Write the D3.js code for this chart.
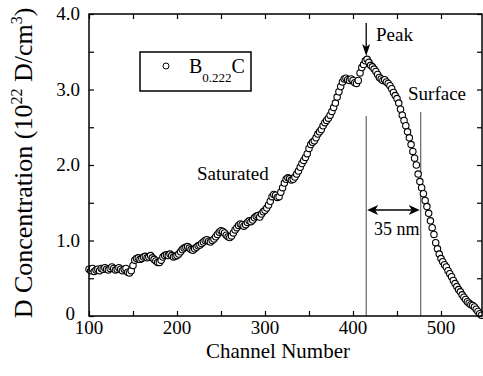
<!DOCTYPE html>
<html><head><meta charset="utf-8">
<script src="https://cdn.jsdelivr.net/npm/d3@7"></script>
<style>body{margin:0;background:#fff}svg{display:block}</style>
</head><body>
<svg id="c" width="483" height="376" font-family="'Liberation Serif', 'Times New Roman', Times, serif"></svg>
<script>
const channels = [100,102,104,106,108,110,112,114,116,118,120,122,124,126,128,130,132,134,136,138,140,142,144,146,148,150,152,154,156,158,160,162,164,166,168,170,172,174,176,178,180,182,184,186,188,190,192,194,196,198,200,202,204,206,208,210,212,214,216,218,220,222,224,226,228,230,232,234,236,238,240,242,244,246,248,250,252,254,256,258,260,262,264,266,268,270,272,274,276,278,280,282,284,286,288,290,292,294,296,298,300,302,304,306,308,310,312,314,316,318,320,322,324,326,328,330,332,334,336,338,340,342,344,346,348,350,352,354,356,358,360,362,364,366,368,370,372,374,376,378,380,382,384,386,388,390,392,394,396,398,400,402,404,406,408,410,412,414,416,418,420,422,424,426,428,430,432,434,436,438,440,442,444,446,448,450,452,454,456,458,460,462,464,466,468,470,472,474,476,478,480,482,484,486,488,490,492,494,496,498,500,502,504,506,508,510,512,514,516,518,520,522,524,526,528,530,532,534,536,538,540,542,544,546];
const concentration = [0.62,0.60,0.63,0.59,0.61,0.62,0.60,0.63,0.62,0.64,0.62,0.61,0.63,0.65,0.63,0.61,0.62,0.64,0.62,0.60,0.62,0.63,0.58,0.57,0.60,0.67,0.74,0.76,0.77,0.75,0.76,0.78,0.79,0.77,0.78,0.80,0.77,0.75,0.73,0.71,0.71,0.74,0.78,0.80,0.81,0.80,0.82,0.80,0.78,0.79,0.80,0.82,0.85,0.88,0.90,0.91,0.92,0.90,0.88,0.87,0.89,0.91,0.93,0.94,0.96,0.98,1.00,1.01,0.99,0.98,1.00,1.02,1.05,1.08,1.11,1.13,1.12,1.10,1.07,1.05,1.04,1.06,1.10,1.14,1.17,1.20,1.22,1.21,1.19,1.21,1.24,1.26,1.25,1.27,1.30,1.32,1.33,1.31,1.35,1.38,1.40,1.43,1.47,1.52,1.58,1.61,1.60,1.57,1.58,1.64,1.70,1.76,1.81,1.83,1.82,1.80,1.81,1.84,1.88,1.92,1.97,2.02,2.06,2.10,2.15,2.22,2.27,2.30,2.32,2.36,2.41,2.44,2.47,2.52,2.56,2.59,2.62,2.66,2.71,2.76,2.82,2.90,2.97,3.04,3.10,3.14,3.15,3.13,3.12,3.14,3.12,3.09,3.08,3.12,3.22,3.29,3.33,3.38,3.40,3.36,3.32,3.30,3.27,3.24,3.20,3.16,3.14,3.12,3.13,3.10,3.08,3.05,3.01,2.96,2.92,2.88,2.82,2.74,2.66,2.59,2.52,2.44,2.36,2.27,2.18,2.09,2.00,1.88,1.78,1.70,1.62,1.53,1.45,1.36,1.26,1.17,1.08,0.97,0.89,0.82,0.76,0.72,0.68,0.65,0.60,0.56,0.52,0.47,0.43,0.39,0.35,0.32,0.28,0.25,0.22,0.19,0.17,0.15,0.14,0.12,0.09,0.06,0.03,0.01];
const xTickValues = [100,200,300,400,500];
const yTickValues = [0,1,2,3,4];
const yTickLabels = ["0","1.0","2.0","3.0","4.0"];
const peakChannel = 415, surfaceChannel = 477;

const svg = d3.select("#c");
const L = 89, R = 482, T = 14, B = 316;
const x = d3.scaleLinear().domain([100, 546.6]).range([L, R]);
const y = d3.scaleLinear().domain([0, 4]).range([B, T]);

// annotation lines
svg.append("line").attr("x1", x(peakChannel)).attr("x2", x(peakChannel)).attr("y1", 116).attr("y2", B).attr("stroke", "#444").attr("stroke-width", 1);
svg.append("line").attr("x1", x(surfaceChannel)).attr("x2", x(surfaceChannel)).attr("y1", 112).attr("y2", B).attr("stroke", "#444").attr("stroke-width", 1);

// data
svg.append("g").selectAll("circle").data(channels).join("circle")
  .attr("cx", (d) => x(d)).attr("cy", (d, i) => y(concentration[i])).attr("r", 3.2)
  .attr("fill", "#fff").attr("stroke", "#000").attr("stroke-width", 1.1);

// axes with inward ticks
const minorX = d3.range(100, 547, 50), minorY = d3.range(0, 4.01, 0.5);
const gb = svg.append("g").attr("transform", `translate(0,${B})`).call(d3.axisBottom(x).tickValues(minorX).tickSize(-5).tickFormat(""));
const gt = svg.append("g").attr("transform", `translate(0,${T})`).call(d3.axisTop(x).tickValues(minorX).tickSize(-5).tickFormat(""));
const gl = svg.append("g").attr("transform", `translate(${L},0)`).call(d3.axisLeft(y).tickValues(minorY).tickSize(-5).tickFormat(""));
const gr = svg.append("g").attr("transform", `translate(${R},0)`).call(d3.axisRight(y).tickValues(minorY).tickSize(-5).tickFormat(""));
[gb, gt, gl, gr].forEach(g => { g.select(".domain").remove(); g.selectAll("line").attr("stroke", "#000").attr("stroke-width", 1.2); });
svg.append("rect").attr("x", L).attr("y", T).attr("width", R - L).attr("height", B - T).attr("fill", "none").attr("stroke", "#000").attr("stroke-width", 1.5);

// tick labels
svg.append("g").selectAll("text").data(xTickValues).join("text")
  .attr("x", (d) => x(d)).attr("y", 334).attr("text-anchor", "middle").attr("font-size", 19).text((d) => d);
svg.append("g").selectAll("text").data(yTickValues).join("text")
  .attr("x", (d) => d === 0 ? 75 : 80).attr("y", (d) => y(d) + (d === 0 ? 4 : 6)).attr("text-anchor", "end").attr("font-size", 19).text((d, i) => yTickLabels[i]);

// titles
svg.append("text").attr("x", 278).attr("y", 358).attr("text-anchor", "middle").attr("font-size", 21).text("Channel Number");
const yt = svg.append("text").attr("transform", "translate(32,163) rotate(-90)").attr("text-anchor", "middle").attr("font-size", 26);
yt.append("tspan").text("D  Concentration (10");
yt.append("tspan").attr("font-size", 16).attr("dy", -10).text("22");
yt.append("tspan").attr("dy", 10).text(" D/cm");
yt.append("tspan").attr("font-size", 16).attr("dy", -10).text("3");
yt.append("tspan").attr("dy", 10).text(")");

// legend
svg.append("rect").attr("x", 140).attr("y", 52).attr("width", 111).attr("height", 39).attr("fill", "none").attr("stroke", "#000").attr("stroke-width", 1.5);
svg.append("circle").attr("cx", 166).attr("cy", 66).attr("r", 3).attr("fill", "#fff").attr("stroke", "#000");
const lt = svg.append("text").attr("x", 189).attr("y", 73).attr("font-size", 20);
lt.append("tspan").text("B");
lt.append("tspan").attr("font-size", 13).attr("dy", 9).text("0.222");
lt.append("tspan").attr("dy", -9).text("C");

// Peak arrow
const px = x(peakChannel);
svg.append("line").attr("x1", px).attr("x2", px).attr("y1", 23).attr("y2", 48).attr("stroke", "#000").attr("stroke-width", 1.3);
svg.append("path").attr("d", `M${px},56 L${px-4},44 L${px},47 L${px+4},44 Z`).attr("fill", "#000");
svg.append("text").attr("x", 376).attr("y", 41).attr("font-size", 19).text("Peak");
svg.append("text").attr("x", 408).attr("y", 100).attr("font-size", 19).text("Surface");
svg.append("text").attr("x", 197).attr("y", 180).attr("font-size", 19).text("Saturated");

// 35 nm double arrow
const sx = x(surfaceChannel), ay = 210;
svg.append("line").attr("x1", px + 6).attr("x2", sx - 6).attr("y1", ay).attr("y2", ay).attr("stroke", "#000").attr("stroke-width", 1.5);
svg.append("path").attr("d", `M${px+1},${ay} L${px+12},${ay-5} L${px+9},${ay} L${px+12},${ay+5} Z`).attr("fill", "#000");
svg.append("path").attr("d", `M${sx-1},${ay} L${sx-12},${ay-5} L${sx-9},${ay} L${sx-12},${ay+5} Z`).attr("fill", "#000");
svg.append("text").attr("x", 374).attr("y", 235).attr("font-size", 18).text("35 nm");
</script>
</body></html>
